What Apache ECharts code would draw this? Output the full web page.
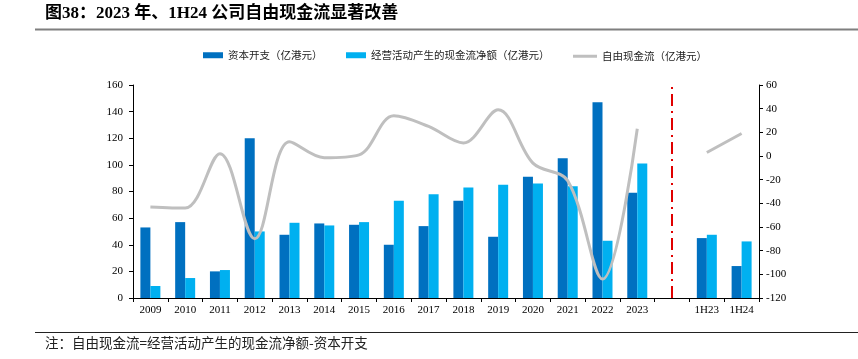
<!DOCTYPE html>
<html><head><meta charset="utf-8">
<script src="https://cdn.jsdelivr.net/npm/echarts@6/dist/echarts.min.js"></script>
<style>html,body{margin:0;padding:0;background:#fff;}#c{width:858px;height:359px;}</style>
</head><body><div id="c"></div>
<script>
const categories = ['2009','2010','2011','2012','2013','2014','2015','2016','2017','2018','2019','2020','2021','2022','2023',' ','1H23','1H24'];
const capex = [53, 57, 20, 120, 47.5, 56, 55, 40, 54, 73, 46, 91, 105, 147, 79, null, 45, 24];
const opCash = [9, 15, 21, 50, 56.5, 54.5, 57, 73, 78, 83, 85, 86, 84, 43, 101, null, 47.5, 42.5];
const fcf = [-43, -44, 2, -70, 12, -1.5, 1, 34, 25, 11, 39, -6, -21, -104, 23, null, 3, 19];
const leftTicks = {min: 0, max: 160, interval: 20};
const rightTicks = {min: -120, max: 60, interval: 20};
const names = ['资本开支（亿港元）', '经营活动产生的现金流净额（亿港元）', '自由现金流（亿港元）'];

const chart = echarts.init(document.getElementById('c'), null, {renderer: 'canvas'});
const axisFont = {fontFamily: 'Liberation Serif', fontSize: 11, color: '#000'};
const legendText = {fontFamily: 'Noto Sans CJK SC', fontSize: 10.5, color: '#222'};
chart.setOption({
  animation: false,
  backgroundColor: '#fff',
  grid: {left: 133, right: 99, top: 85, bottom: 61},
  legend: [
    {data: [names[0]], left: 203, top: 50, itemWidth: 20, itemHeight: 6, itemGap: 2, icon: 'rect', textStyle: legendText, padding: 0},
    {data: [names[1]], left: 346, top: 50, itemWidth: 20, itemHeight: 6, icon: 'rect', textStyle: legendText, padding: 0},
    {data: [names[2]], left: 573, top: 51, itemWidth: 24, itemHeight: 3, icon: 'rect', textStyle: legendText, padding: 0}
  ],
  xAxis: {
    type: 'category', data: categories, boundaryGap: true,
    axisLine: {lineStyle: {color: '#000', width: 1}},
    axisTick: {show: true, alignWithLabel: false, length: 4, lineStyle: {color: '#000'}},
    axisLabel: Object.assign({margin: 7, interval: 0}, axisFont)
  },
  yAxis: [
    Object.assign({type: 'value', position: 'left',
      axisLine: {show: true, lineStyle: {color: '#000'}},
      axisTick: {show: true, length: 4, lineStyle: {color: '#000'}},
      splitLine: {show: false},
      axisLabel: Object.assign({margin: 10}, axisFont)}, leftTicks),
    Object.assign({type: 'value', position: 'right',
      axisLine: {show: true, lineStyle: {color: '#000'}},
      axisTick: {show: true, length: 4, lineStyle: {color: '#000'}},
      splitLine: {show: false},
      axisLabel: Object.assign({margin: 7}, axisFont)}, rightTicks)
  ],
  series: [
    {name: names[0], type: 'bar', data: capex, barWidth: 10, barGap: '0%', itemStyle: {color: '#0070C0'}},
    {name: names[1], type: 'bar', data: opCash, barWidth: 10, barGap: '0%', itemStyle: {color: '#00B0F0'}},
    {name: names[2], type: 'line', yAxisIndex: 1, data: fcf, smooth: 0.35, showSymbol: false, connectNulls: false,
     lineStyle: {color: '#BFBFBF', width: 3}, itemStyle: {color: '#BFBFBF'},
     markLine: {silent: true, symbol: 'none', label: {show: false},
       lineStyle: {color: '#E00000', width: 2, type: [12, 5, 2, 5]},
       data: [{xAxis: 15}]}}
  ],
  graphic: [
    {type: 'text', left: 45, top: 5, style: {text: '图38：2023 年、1H24 公司自由现金流显著改善', font: 'bold 17px "Liberation Serif", "Noto Sans CJK SC"', fill: '#000'}},
    {type: 'line', shape: {x1: 35, y1: 29.5, x2: 858, y2: 29.5}, style: {stroke: '#7f7f7f', lineWidth: 2}},
    {type: 'line', shape: {x1: 35, y1: 332.5, x2: 858, y2: 332.5}, style: {stroke: '#222', lineWidth: 1.2}},
    {type: 'text', left: 45, top: 336, style: {text: '注：自由现金流=经营活动产生的现金流净额-资本开支', font: '13.5px "Noto Sans CJK SC"', fill: '#222'}}
  ]
});
</script></body></html>
